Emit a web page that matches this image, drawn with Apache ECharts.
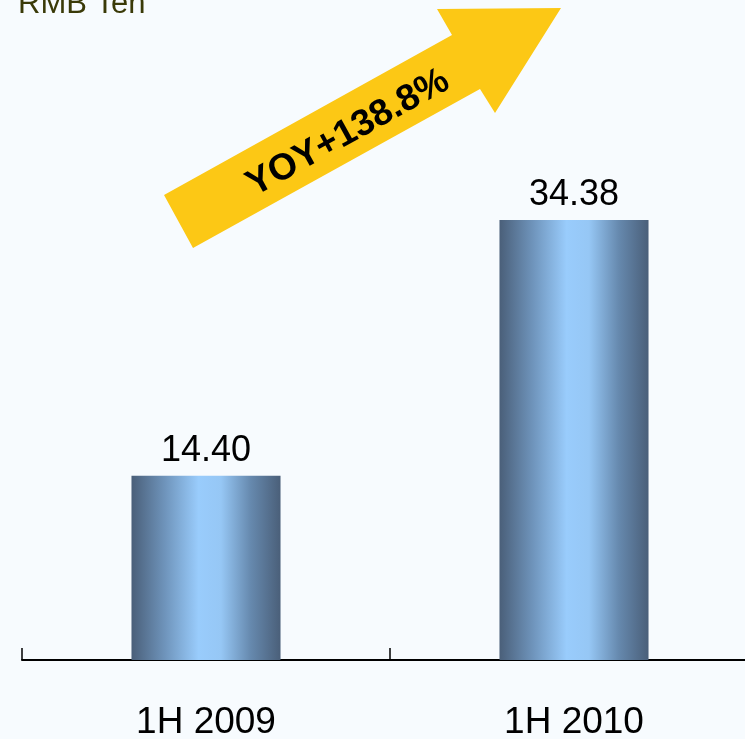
<!DOCTYPE html>
<html>
<head>
<meta charset="utf-8">
<script src="https://cdn.jsdelivr.net/npm/echarts@6/dist/echarts.min.js"></script>
<style>
  html, body { margin: 0; padding: 0; background: #F7FBFE; }
  #chart { width: 745px; height: 739px; }
</style>
</head>
<body>
<div id="chart"></div>
<script>
// Half-year revenue, unit: RMB ten thousand
var categories = ['1H 2009', '1H 2010'];
var values = [14.40, 34.38];
var valueLabels = ['14.40', '34.38'];
var growthText = 'YOY+138.8%';
var unitText = 'RMB Ten';

var chart = echarts.init(document.getElementById('chart'));

var barGradient = new echarts.graphic.LinearGradient(0, 0, 1, 0, [
  { offset: 0, color: '#4A5F79' },
  { offset: 0.22, color: '#6E93BA' },
  { offset: 0.45, color: '#99CCFC' },
  { offset: 0.6, color: '#96C7F5' },
  { offset: 0.8, color: '#6689AE' },
  { offset: 1, color: '#4A5F79' }
]);

chart.setOption({
  backgroundColor: '#F7FBFE',
  animation: false,
  grid: { left: 22, width: 736, top: 20, bottom: 79, containLabel: false, outerBoundsMode: 'none' },
  xAxis: {
    type: 'category',
    data: categories,
    axisLine: { lineStyle: { color: '#000', width: 2 } },
    axisTick: { show: true, inside: true, length: 12, interval: 0, lineStyle: { color: '#000', width: 1.5 } },
    axisLabel: { color: '#000', fontSize: 37, fontFamily: 'Liberation Sans', margin: 44 }
  },
  yAxis: {
    type: 'value', min: 0, max: 50, show: false,
    splitLine: { show: false }
  },
  series: [{
    type: 'bar',
    data: values,
    barWidth: '40.5%',
    itemStyle: { color: barGradient },
    label: {
      show: true,
      position: 'top',
      distance: 7,
      color: '#000',
      fontSize: 36,
      fontFamily: 'Liberation Sans',
      formatter: function (p) { return valueLabels[p.dataIndex]; }
    }
  }],
  graphic: [
    {
      type: 'text',
      left: 18, top: -11,
      style: { text: unitText, fill: '#3A3A08', fontSize: 31, fontFamily: 'Liberation Sans' }
    },
    {
      type: 'polygon',
      shape: { points: [[164, 195], [452, 35], [437, 9], [561, 8], [495, 113], [480, 89], [193, 248]] },
      style: { fill: '#FCC815' }
    },
    {
      type: 'text',
      x: 348, y: 133,
      rotation: 0.506,
      style: {
        text: growthText, fill: '#000', fontSize: 37, fontWeight: 'bold',
        fontFamily: 'Liberation Sans', align: 'center', verticalAlign: 'middle'
      }
    }
  ]
});
</script>
</body>
</html>
